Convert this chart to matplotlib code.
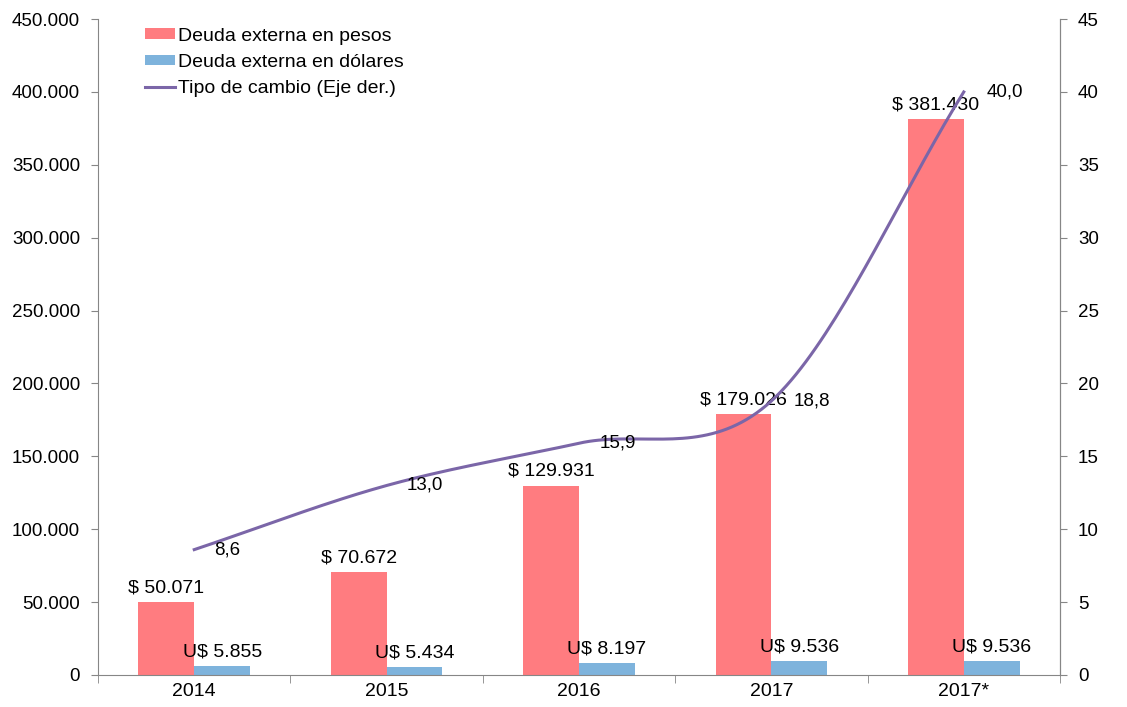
import numpy as np
import matplotlib
matplotlib.use('Agg')
import matplotlib.pyplot as plt
from matplotlib.ticker import FuncFormatter, FixedLocator

categories = ['2014', '2015', '2016', '2017', '2017*']
deuda_pesos = [50071, 70672, 129931, 179026, 381430]
deuda_dolares = [5855, 5434, 8197, 9536, 9536]
tipo_cambio = [8.6, 13.0, 15.9, 18.8, 40.0]

plt.rcParams['font.family'] = ['Liberation Sans', 'DejaVu Sans']

RED = '#FF7C80'
BLUE = '#7EB3DC'
PURPLE = '#7B66A8'
GRAY = '#868686'


def catmull_rom(xs, ys, n=40):
    """Smooth line through the points (Excel-style smoothed line)."""
    xs = np.asarray(xs, float)
    ys = np.asarray(ys, float)
    px = np.concatenate([[2 * xs[0] - xs[1]], xs, [2 * xs[-1] - xs[-2]]])
    py = np.concatenate([[2 * ys[0] - ys[1]], ys, [2 * ys[-1] - ys[-2]]])
    outx, outy = [], []
    t = np.linspace(0, 1, n)
    for i in range(1, len(px) - 2):
        for p, out in ((px, outx), (py, outy)):
            p0, p1, p2, p3 = p[i - 1], p[i], p[i + 1], p[i + 2]
            m1 = (p2 - p0) / 2
            m2 = (p3 - p1) / 2
            h00 = 2 * t**3 - 3 * t**2 + 1
            h10 = t**3 - 2 * t**2 + t
            h01 = -2 * t**3 + 3 * t**2
            h11 = t**3 - t**2
            out.extend(h00 * p1 + h10 * m1 + h01 * p2 + h11 * m2)
    return np.array(outx), np.array(outy)


fig = plt.figure(figsize=(11.27, 7.07), dpi=100)
ax = fig.add_axes([0.087, 0.0453, 0.8535, 0.9277])
ax2 = ax.twinx()

x = np.arange(len(categories))
w = 0.29
ax.bar(x - w / 2, deuda_pesos, w, color=RED, label='Deuda externa en pesos', zorder=2)
ax.bar(x + w / 2, deuda_dolares, w, color=BLUE, label='Deuda externa en dólares', zorder=2)

sx, sy = catmull_rom(x, tipo_cambio)
line, = ax2.plot(sx, sy, color=PURPLE, lw=2.2, label='Tipo de cambio (Eje der.)')

fs = 14
for i in range(len(categories)):
    ax.text(x[i] - w / 2, deuda_pesos[i] + 4000, '$ ' + f'{deuda_pesos[i]:,}'.replace(',', '.'),
            ha='center', va='bottom', fontsize=fs)
    ax.text(x[i] + w / 2, deuda_dolares[i] + 4000, 'U$ ' + f'{deuda_dolares[i]:,}'.replace(',', '.'),
            ha='center', va='bottom', fontsize=fs)

# exchange-rate labels sit to the right of each point
for i, v in enumerate(tipo_cambio):
    ax2.annotate(f'{v:.1f}'.replace('.', ','), (x[i], v), xytext=(14 + 0.6 * i, 0),
                 textcoords='offset points', ha='left', va='center', fontsize=13.5)

ax.set_xlim(-0.5, len(categories) - 0.5)
ax.set_ylim(0, 450000)
ax2.set_ylim(0, 45)
ax.set_yticks(np.arange(0, 450001, 50000))
ax2.set_yticks(np.arange(0, 46, 5))
ax.yaxis.set_major_formatter(FuncFormatter(lambda v, p: f'{int(v):,}'.replace(',', '.')))

ax.set_xticks(x)
ax.set_xticklabels(categories)
ax.xaxis.set_minor_locator(FixedLocator(np.arange(-0.5, len(categories), 1.0)))
ax.tick_params(axis='x', which='major', length=0, labelsize=fs, pad=6)
ax.tick_params(axis='x', which='minor', length=6, color=GRAY, direction='out')
ax.tick_params(axis='y', length=5, color=GRAY, labelsize=13.5, pad=8)
ax2.tick_params(axis='y', length=5, color=GRAY, labelsize=13.5, pad=8)

for a in (ax, ax2):
    a.spines['top'].set_visible(False)
    for s in ('left', 'right', 'bottom'):
        a.spines[s].set_color(GRAY)
ax2.spines['left'].set_visible(False)
ax2.spines['bottom'].set_visible(False)

handles = ax.get_legend_handles_labels()[0] + [line]
leg = ax.legend(handles=handles, loc='upper left', bbox_to_anchor=(0.0489, 0.987),
                frameon=False, fontsize=fs, handlelength=1.55, handleheight=0.45,
                handletextpad=0.15, labelspacing=0.48, borderaxespad=0, borderpad=0)

fig.savefig('out.png', dpi=100, facecolor='white')
